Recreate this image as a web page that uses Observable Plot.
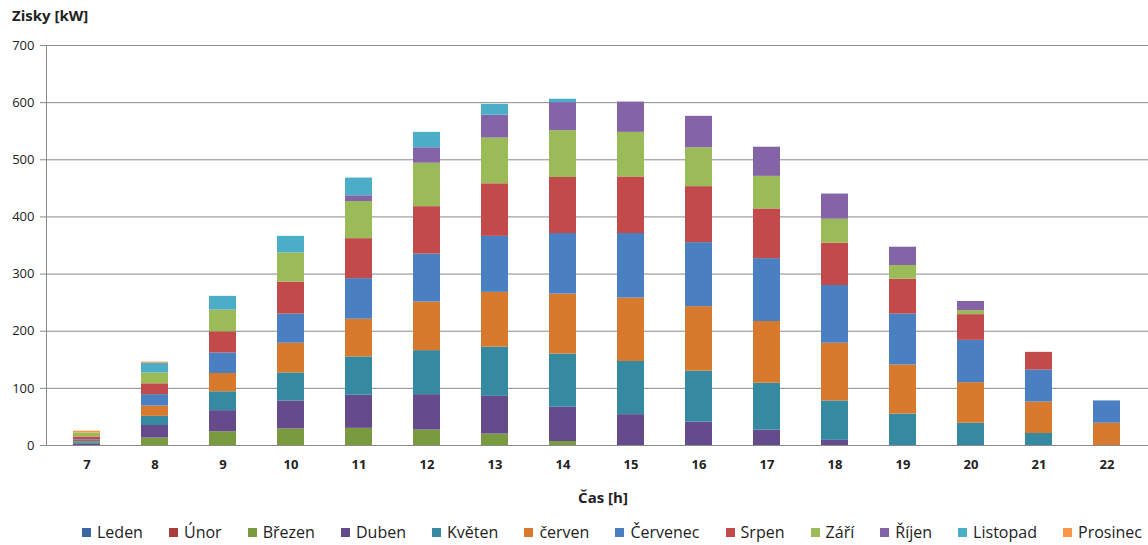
<!DOCTYPE html>
<html>
<head>
<meta charset="utf-8">
<script src="https://cdn.jsdelivr.net/npm/d3@7"></script>
<script src="https://cdn.jsdelivr.net/npm/@observablehq/plot@0.6"></script>
<style>
  body { margin:0; background:#fff; font-family:'Open Sans', sans-serif; color:#222; }
  #wrap { position:relative; width:1148px; height:545px; overflow:hidden; }
  #title { position:absolute; left:12px; top:5px; font-weight:bold; font-size:15px; }
  #chart { position:absolute; left:0; top:0; }
  #xlabel { position:absolute; left:603px; top:487px; transform:translateX(-50%); font-weight:bold; font-size:15px; }
  #legend { position:absolute; left:82px; width:1060px; top:521px; display:flex; justify-content:space-between; font-size:16px; }
  .item { display:flex; align-items:center; }
  .sw { width:9px; height:9px; margin-right:6px; }
</style>
</head>
<body>
<div id="wrap">
  <div id="chart"></div>
  <div id="title">Zisky [kW]</div>
  <div id="xlabel">Čas [h]</div>
  <div id="legend"></div>
</div>
<script>
const hours = ["7","8","9","10","11","12","13","14","15","16","17","18","19","20","21","22"];
const months = ["Leden","Únor","Březen","Duben","Květen","červen","Červenec","Srpen","Září","Říjen","Listopad","Prosinec"];
const colors = ["#3C67A3","#A83F3D","#7A9A40","#664B8C","#3589A0","#D77A2E","#4A7FC2","#C24A4A","#9BBB59","#8463A6","#4BADC8","#F79646"];
const yTicks = [0,100,200,300,400,500,600,700];

// values per month, for hours 7..22
const leden    = [0,0,0,0,0,0,0,0,0,0,0,0,0,0,0,0];
const unor     = [0,0,0,0,0,0,0,0,0,0,0,0,0,0,0,0];
const brezen   = [0,13,24,29,30,27,20,7,0,0,0,0,0,0,0,0];
const duben    = [2,22,37,49,58,62,66,60,54,41,27,9,0,0,0,0];
const kveten   = [3,16,33,49,67,77,86,93,93,89,82,69,55,39,21,0];
const cerven   = [2,18,32,52,66,85,96,105,111,113,108,101,86,71,55,39];
const cervenec = [3,20,36,51,71,84,98,106,113,112,110,101,89,74,56,39];
const srpen    = [5,19,37,56,70,83,92,98,99,98,87,74,61,45,31,0];
const zari     = [7,19,38,51,65,76,80,82,78,68,57,42,24,7,0,0];
const rijen    = [0,0,0,0,10,27,40,49,53,55,51,44,32,16,0,0];
const listopad = [0,17,24,29,31,27,19,6,0,0,0,0,0,0,0,0];
const prosinec = [3,2,0,0,0,0,0,0,0,0,0,0,0,0,0,0];

const series = [leden,unor,brezen,duben,kveten,cerven,cervenec,srpen,zari,rijen,listopad,prosinec];
const data = months.flatMap((m,i) => series[i].map((v,j) => ({hour: hours[j], month: m, value: v})));

const chart = Plot.plot({
  width: 1148,
  height: 480,
  marginTop: 45,
  marginBottom: 35,
  marginLeft: 46,
  marginRight: 0,
  style: {fontFamily: "'Open Sans', sans-serif", fontSize: "13px", color: "#222", background: "transparent"},
  x: {type: "band", domain: hours, paddingInner: 0.6, paddingOuter: 0.3, label: null},
  y: {domain: [0, 700], label: null},
  color: {domain: months, range: colors},
  marks: [
    Plot.gridY(yTicks, {stroke: "#8a8a8a", strokeOpacity: 1}),
    Plot.axisY(yTicks, {tickSize: 6, tickPadding: 6, stroke: "#8a8a8a", label: null}),
    Plot.barY(data, {x: "hour", y: "value", fill: "month"}),
    Plot.frame({anchor: "left", stroke: "#8a8a8a"}),
    Plot.ruleY([0], {stroke: "#8a8a8a"}),
    Plot.axisX({tickSize: 0, tickPadding: 14, fontWeight: "bold", label: null})
  ]
});
document.getElementById("chart").appendChild(chart);

const legend = document.getElementById("legend");
months.forEach((m, i) => {
  const it = document.createElement("div");
  it.className = "item";
  const sw = document.createElement("span");
  sw.className = "sw";
  sw.style.background = colors[i];
  const tx = document.createElement("span");
  tx.textContent = m;
  it.appendChild(sw);
  it.appendChild(tx);
  legend.appendChild(it);
});
</script>
</body>
</html>
